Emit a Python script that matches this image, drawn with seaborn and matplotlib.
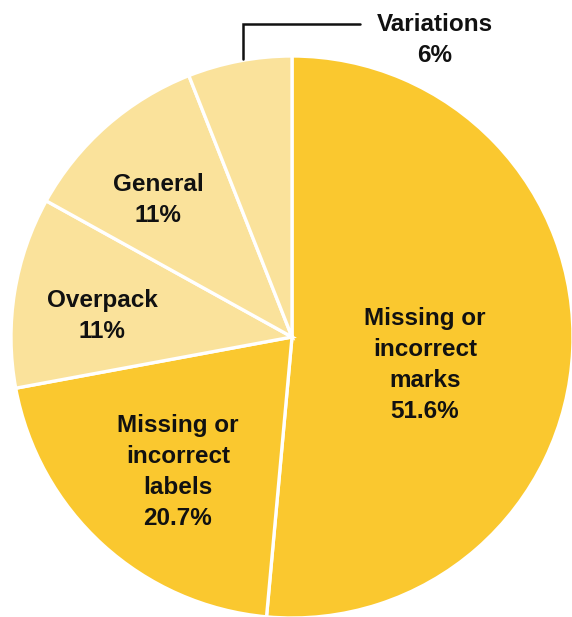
import numpy as np
import matplotlib
matplotlib.use("Agg")
import matplotlib.pyplot as plt
import seaborn as sns

categories = ["Missing or\nincorrect\nmarks", "Missing or\nincorrect\nlabels", "Overpack", "General", "Variations"]
values = [51.6, 20.7, 11, 11, 6]
pct_labels = ["51.6%", "20.7%", "11%", "11%", "6%"]
colors = ["#FAC82F", "#FAC82F", "#FAE29B", "#FAE29B", "#FAE29B"]

sns.set_style("white")
plt.rcParams['font.family'] = ['Liberation Sans', 'DejaVu Sans']

W, H = 572, 617
fig = plt.figure(figsize=(W / 100, H / 100), dpi=100)
ax = fig.add_axes([0, 0, 1, 1])
R = 281.0
cx, cy = 292.0, 337.0

wedges, _ = ax.pie(values, colors=colors, startangle=90, counterclock=False, radius=1,
                   wedgeprops=dict(edgecolor="white", linewidth=2.4))
ax.set_xlim(-cx / R, (W - cx) / R)
ax.set_ylim(-(H - cy) / R, cy / R)
ax.set_aspect("equal")
ax.axis("off")

def px(x, y):
    return ((x - cx) / R, (cy - y) / R)

label_pos = [px(425, 365), px(178, 472), px(102, 316), px(158, 200), px(435, 40)]
for cat, pct, pos in zip(categories, pct_labels, label_pos):
    ax.text(pos[0], pos[1], f"{cat}\n{pct}", ha="center", va="center", fontsize=17.5,
            fontweight="bold", color="#111111", linespacing=1.45)

# leader line for Variations
w = wedges[4]
mid = np.deg2rad((w.theta1 + w.theta2) / 2)
x0 = px(243, 0)[0]
y0 = np.sqrt(1 - x0 ** 2)
xl = px(243, 24)
ax.plot([x0, x0, px(360, 24)[0]], [y0 + 0.005, xl[1], xl[1]], color="#111111", lw=1.8,
        solid_joinstyle="miter")

fig.savefig("out.png", dpi=100)
